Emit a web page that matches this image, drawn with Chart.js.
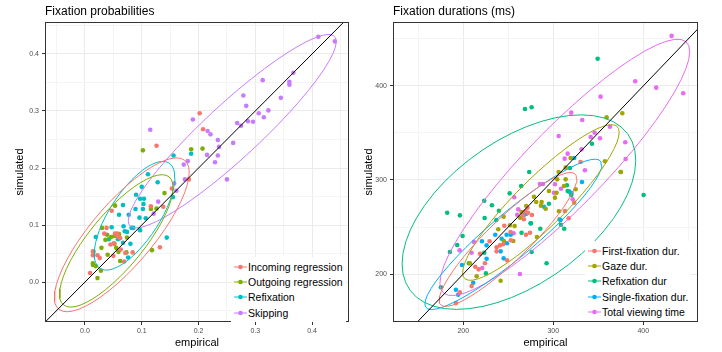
<!DOCTYPE html>
<html>
<head>
<meta charset="utf-8">
<script src="https://cdn.jsdelivr.net/npm/chart.js@4/dist/chart.umd.min.js"></script>
<style>
  body { margin: 0; background: #fff; font-family: "Liberation Sans", Arial, sans-serif; }
  #wrap { position: relative; width: 722px; height: 352px; overflow: hidden; }
  .panel { position: absolute; top: 0; width: 361px; height: 352px; }
  .title { position: absolute; top: 5px; font-size: 12px; line-height: 12px; color: #000; white-space: nowrap; }
  .legend { position: absolute; background: #fff; font-size: 10.5px; color: #000; padding: 2px 3px; }
  .legend .row { display: flex; align-items: center; height: 15.3px; white-space: nowrap; }
  .legend svg { display: block; margin-right: 1px; }
</style>
</head>
<body>
<div id="wrap">
  <div class="panel" style="left:0"><canvas id="probChart" width="361" height="352"></canvas></div>
  <div class="panel" style="left:361px"><canvas id="durChart" width="361" height="352"></canvas></div>
  <div class="title" style="left:45px">Fixation probabilities</div>
  <div class="title" style="left:393px">Fixation durations (ms)</div>
  <div class="legend" id="probLegend" style="left:231px;top:257px"></div>
  <div class="legend" id="durLegend" style="left:585px;top:241px"></div>
</div>
<script>
'use strict';

// ---- left panel: fixation probabilities ----
const probCategories = ['Incoming regression', 'Outgoing regression', 'Refixation', 'Skipping'];
const probColors = ['#F8766D', '#7CAE00', '#00BFC4', '#C77CFF'];

const incomingEmp = [0.202, 0.208, 0.126, 0.183, 0.153, 0.047, 0.116, 0.138, 0.038, 0.053, 0.058, 0.062, 0.045, 0.063, 0.071, 0.084, 0.132, 0.014, 0.014, 0.022, 0.026, 0.050, 0.069, 0.009, 0.034, 0.051, 0.057];
const incomingSim = [0.296, 0.268, 0.239, 0.180, 0.164, 0.125, 0.133, 0.132, 0.095, 0.085, 0.080, 0.077, 0.066, 0.057, 0.051, 0.052, 0.061, 0.054, 0.047, 0.047, 0.042, 0.046, 0.036, 0.016, 0.085, 0.068, 0.085];

const outgoingEmp = [0.102, 0.187, 0.207, 0.140, 0.053, 0.116, 0.126, 0.030, 0.060, 0.039, 0.036, 0.052, 0.074, 0.052, 0.029, 0.055, 0.015, 0.040, 0.059, 0.073, 0.118, 0.014, 0.014, 0.019, 0.028, 0.022, 0.062, 0.046];
const outgoingSim = [0.231, 0.233, 0.234, 0.156, 0.134, 0.128, 0.129, 0.095, 0.084, 0.083, 0.074, 0.081, 0.078, 0.067, 0.060, 0.060, 0.053, 0.048, 0.053, 0.052, 0.056, 0.033, 0.030, 0.028, 0.020, 0.007, 0.037, 0.079];

const refixEmp = [0.156, 0.187, 0.111, 0.128, 0.100, 0.090, 0.097, 0.104, 0.103, 0.089, 0.102, 0.067, 0.077, 0.060, 0.107, 0.096, 0.047, 0.068, 0.082, 0.085, 0.070, 0.097, 0.074, 0.019, 0.042, 0.058, 0.067, 0.080, 0.076, 0.155, 0.144];
const refixSim = [0.222, 0.225, 0.189, 0.175, 0.167, 0.153, 0.146, 0.146, 0.137, 0.128, 0.128, 0.135, 0.118, 0.118, 0.112, 0.113, 0.096, 0.098, 0.095, 0.095, 0.089, 0.091, 0.088, 0.079, 0.075, 0.075, 0.069, 0.067, 0.043, 0.149, 0.078];

const skipEmp = [0.411, 0.440, 0.367, 0.313, 0.360, 0.360, 0.279, 0.345, 0.284, 0.323, 0.306, 0.315, 0.190, 0.268, 0.287, 0.296, 0.275, 0.115, 0.216, 0.221, 0.234, 0.261, 0.236, 0.215, 0.234, 0.181, 0.229, 0.174, 0.176, 0.157, 0.250, 0.161, 0.129, 0.121];
const skipSim = [0.430, 0.422, 0.367, 0.354, 0.351, 0.346, 0.327, 0.323, 0.309, 0.301, 0.296, 0.289, 0.285, 0.279, 0.282, 0.281, 0.274, 0.267, 0.265, 0.259, 0.249, 0.244, 0.237, 0.223, 0.222, 0.212, 0.210, 0.206, 0.180, 0.173, 0.180, 0.160, 0.141, 0.120];

const probRange = { x: [-0.0704, 0.465], y: [-0.070, 0.456] };
const probMajorTicks = [0.0, 0.1, 0.2, 0.3, 0.4];
const probMinorTicks = [-0.05, 0.05, 0.15, 0.25, 0.35, 0.45];

// ---- right panel: fixation durations ----
const durCategories = ['First-fixation dur.', 'Gaze dur.', 'Refixation dur', 'Single-fixation dur.', 'Total viewing time'];
const durColors = ['#F8766D', '#A3A500', '#00BF7D', '#00B0F6', '#E76BF3'];

const firstFixEmp = [268.9, 271.9, 276.3, 266.3, 267.4, 245.6, 229.3, 240.8, 244.4, 237.1, 237.1, 218.6, 224.1, 213.3, 217.1, 248.6, 253.0, 269.7, 274.1, 313.0, 323.3, 317.1, 209.3, 196.3, 191.9, 252.6, 271.4, 330.3];
const firstFixSim = [266.7, 265.2, 262.8, 262.4, 258.2, 251.4, 234.8, 230.5, 231.6, 228.4, 224.1, 221.6, 211.4, 207.8, 205.0, 214.6, 235.9, 241.8, 243.9, 267.0, 275.9, 259.3, 187.2, 180.5, 169.1, 244.7, 270.5, 319.1];

const gazeEmp = [359.3, 376.7, 357.4, 319.3, 313.8, 306.0, 375.2, 304.4, 313.8, 311.9, 324.9, 295.2, 303.7, 301.9, 287.1, 281.1, 286.3, 278.6, 270.0, 264.8, 263.3, 306.3, 291.6, 244.9, 251.9, 257.1, 238.9, 255.6, 245.2, 281.9, 241.6, 214.9, 207.4];
const gazeSim = [366.7, 371.0, 319.9, 323.4, 313.1, 308.5, 308.5, 300.7, 300.7, 293.6, 290.1, 288.3, 286.5, 281.2, 276.6, 276.6, 272.7, 282.2, 272.3, 266.0, 259.9, 266.7, 269.5, 261.0, 251.8, 251.1, 247.6, 235.1, 235.1, 239.4, 192.9, 197.6, 211.4];

const refixDurEmp = [349.3, 268.6, 276.0, 343.0, 318.6, 273.3, 374.8, 400.4, 315.2, 316.0, 320.0, 264.4, 251.6, 182.2, 196.3, 223.3, 231.9, 239.7, 223.8, 236.7, 199.3, 193.3, 185.2, 206.3, 223.3, 225.2, 175.2, 275.2, 276.0, 312.2, 308.6, 292.6, 295.2, 285.6, 264.8];
const refixDurSim = [429.0, 375.5, 377.3, 338.6, 312.8, 308.5, 308.5, 284.0, 294.4, 288.3, 284.0, 293.6, 285.8, 265.2, 262.4, 278.0, 273.1, 267.3, 259.6, 257.4, 240.4, 230.9, 223.4, 211.4, 222.7, 200.7, 185.9, 253.9, 223.4, 248.2, 252.4, 211.4, 274.8, 248.2, 243.9];

const singleFixEmp = [331.9, 317.8, 289.7, 270.4, 267.4, 235.6, 248.2, 252.7, 248.6, 242.7, 220.8, 226.0, 226.0, 244.9, 198.6, 211.1, 191.9, 194.4, 307.1, 274.8, 241.6, 323.3, 320.3, 308.1];
const singleFixSim = [297.9, 287.6, 271.6, 264.1, 262.8, 241.8, 241.8, 241.8, 232.7, 237.6, 234.8, 230.5, 216.3, 216.7, 209.6, 190.7, 183.3, 178.0, 258.2, 253.9, 224.1, 323.4, 286.2, 257.4];

const totalEmp = [431.5, 391.1, 414.4, 444.4, 352.6, 320.0, 332.2, 363.0, 306.0, 346.0, 341.6, 351.9, 380.0, 331.5, 316.0, 312.7, 380.4, 335.2, 285.2, 288.6, 301.9, 308.6, 256.7, 300.8, 261.1, 321.6, 256.0, 221.1, 263.0, 196.0, 209.3, 211.9, 260.0];
const totalSim = [453.2, 405.0, 398.2, 392.2, 388.6, 371.6, 363.8, 356.7, 346.8, 350.3, 345.7, 344.4, 340.1, 332.6, 328.0, 322.7, 322.3, 310.3, 295.7, 295.7, 295.4, 290.7, 281.6, 286.5, 268.8, 279.5, 243.3, 206.4, 200.0, 225.2, 222.7, 234.0, 263.0];

const durRange = { x: [122, 460.8], y: [149, 468] };
const durMajorTicks = [200, 300, 400];
const durMinorTicks = [150, 250, 350, 450];

Chart.defaults.font.family = '"Liberation Sans", Arial, sans-serif';

// 95% ellipse from a t-distribution fit (as stat_ellipse does), nu = 5
function ellipse(xs, ys) {
  const n = xs.length, nu = 5, p = 2;
  let w = new Array(n).fill(1);
  let mx = xs.reduce((a, b) => a + b, 0) / n;
  let my = ys.reduce((a, b) => a + b, 0) / n;
  let sxx = 0, sxy = 0, syy = 0;
  for (let it = 0; it < 25; it++) {
    const sw = w.reduce((a, b) => a + b, 0);
    sxx = 0; sxy = 0; syy = 0;
    for (let i = 0; i < n; i++) {
      const dx = xs[i] - mx, dy = ys[i] - my;
      sxx += w[i] * dx * dx; sxy += w[i] * dx * dy; syy += w[i] * dy * dy;
    }
    sxx /= sw; sxy /= sw; syy /= sw;
    const det = sxx * syy - sxy * sxy;
    const w0 = w.slice();
    for (let i = 0; i < n; i++) {
      const dx = xs[i] - mx, dy = ys[i] - my;
      const q = (syy * dx * dx - 2 * sxy * dx * dy + sxx * dy * dy) / det;
      w[i] = (nu + p) / (nu + q);
    }
    const sw2 = w.reduce((a, b) => a + b, 0);
    mx = xs.reduce((a, v, i) => a + w[i] * v, 0) / sw2;
    my = ys.reduce((a, v, i) => a + w[i] * v, 0) / sw2;
    if (w.every((v, i) => Math.abs(v - w0[i]) < 0.01)) break;
  }
  // final covariance
  sxx = 0; sxy = 0; syy = 0;
  for (let i = 0; i < n; i++) {
    const dx = xs[i] - mx, dy = ys[i] - my;
    sxx += w[i] * dx * dx; sxy += w[i] * dx * dy; syy += w[i] * dy * dy;
  }
  sxx /= n; sxy /= n; syy /= n;
  const dfd = n - 1;
  const fq = (dfd / 2) * (Math.pow(0.05, -2 / dfd) - 1);
  const r = Math.sqrt(2 * fq);
  const a = Math.sqrt(sxx), b = sxy / a, c = Math.sqrt(Math.max(syy - b * b, 0));
  const pts = [];
  for (let k = 0; k <= 50; k++) {
    const t = 2 * Math.PI * k / 50;
    pts.push({ x: mx + r * Math.cos(t) * a, y: my + r * (Math.cos(t) * b + Math.sin(t) * c) });
  }
  return pts;
}

const panelBorder = {
  id: 'panelBorder',
  afterDatasetsDraw(chart) {
    const { ctx, chartArea: a } = chart;
    ctx.save();
    ctx.strokeStyle = '#333333';
    ctx.lineWidth = 1;
    ctx.strokeRect(a.left + 0.5, a.top + 0.5, a.width - 1, a.height - 1);
    ctx.restore();
  }
};

function axis(range, major, minor, fmt, opts) {
  const all = major.concat(minor).sort((a, b) => a - b);
  const isMajor = v => major.some(m => Math.abs(m - v) < 1e-9);
  return {
    type: 'linear',
    min: range[0],
    max: range[1],
    afterBuildTicks: s => { s.ticks = all.map(v => ({ value: v })); },
    afterFit: opts.fit,
    ticks: {
      autoSkip: false, maxRotation: 0, padding: opts.tickPad,
      color: '#4d4d4d', font: { size: 7 },
      callback: v => isMajor(v) ? fmt(v) : ''
    },
    grid: {
      lineWidth: 1,
      color: ctx => isMajor(ctx.tick.value) ? '#ebebeb' : '#f4f4f4',
      tickColor: ctx => isMajor(ctx.tick.value) ? '#333333' : 'rgba(0,0,0,0)',
      tickLength: 3
    },
    border: { display: false },
    title: { display: true, text: opts.title, color: '#000', font: { size: 11 }, padding: opts.titlePad }
  };
}

function drawPanel(canvasId, groups, colors, range, major, minor, fmt, layout) {
  const datasets = [];
  groups.forEach((g, i) => {
    datasets.push({
      data: g[0].map((x, k) => ({ x: x, y: g[1][k] })),
      backgroundColor: colors[i], borderWidth: 0, pointRadius: 2.3,
      showLine: false, order: 3
    });
    datasets.push({
      data: ellipse(g[0], g[1]),
      borderColor: colors[i], borderWidth: 1, pointRadius: 0,
      showLine: true, fill: false, order: 2
    });
  });
  // identity line y = x across the panel
  datasets.push({
    data: [{ x: range.x[0], y: range.x[0] }, { x: range.x[1], y: range.x[1] }],
    borderColor: '#000', borderWidth: 1, pointRadius: 0, showLine: true, order: 1
  });

  new Chart(document.getElementById(canvasId), {
    type: 'scatter',
    data: { datasets: datasets },
    options: {
      responsive: false, animation: false, devicePixelRatio: 1,
      layout: { padding: { left: 0, right: layout.right, top: 22, bottom: 0 } },
      plugins: { legend: { display: false }, tooltip: { enabled: false } },
      scales: {
        x: axis(range.x, major, minor, fmt, {
          fit: s => { s.height = 30; }, tickPad: 2,
          title: 'empirical', titlePad: { top: 0, bottom: 2 }
        }),
        y: axis(range.y, major, minor, fmt, {
          fit: s => { s.width = layout.left; }, tickPad: 3,
          title: 'simulated', titlePad: { top: layout.yTitle, bottom: 0 }
        })
      }
    },
    plugins: [panelBorder]
  });
}

function drawLegend(id, names, colors) {
  const box = document.getElementById(id);
  names.forEach((name, i) => {
    const row = document.createElement('div');
    row.className = 'row';
    row.innerHTML = '<svg width="13" height="10"><line x1="0" y1="5" x2="13" y2="5" stroke="' + colors[i] +
      '" stroke-width="1"/><circle cx="6.5" cy="5" r="2.3" fill="' + colors[i] + '"/></svg><span>' + name + '</span>';
    box.appendChild(row);
  });
}

drawPanel('probChart',
  [[incomingEmp, incomingSim], [outgoingEmp, outgoingSim], [refixEmp, refixSim], [skipEmp, skipSim]],
  probColors, probRange, probMajorTicks, probMinorTicks, v => v.toFixed(1),
  { left: 45, right: 12, yTitle: 13 });

drawPanel('durChart',
  [[firstFixEmp, firstFixSim], [gazeEmp, gazeSim], [refixDurEmp, refixDurSim], [singleFixEmp, singleFixSim], [totalEmp, totalSim]],
  durColors, durRange, durMajorTicks, durMinorTicks, v => String(Math.round(v)),
  { left: 32, right: 24, yTitle: 1 });

drawLegend('probLegend', probCategories, probColors);
drawLegend('durLegend', durCategories, durColors);
</script>
</body>
</html>
